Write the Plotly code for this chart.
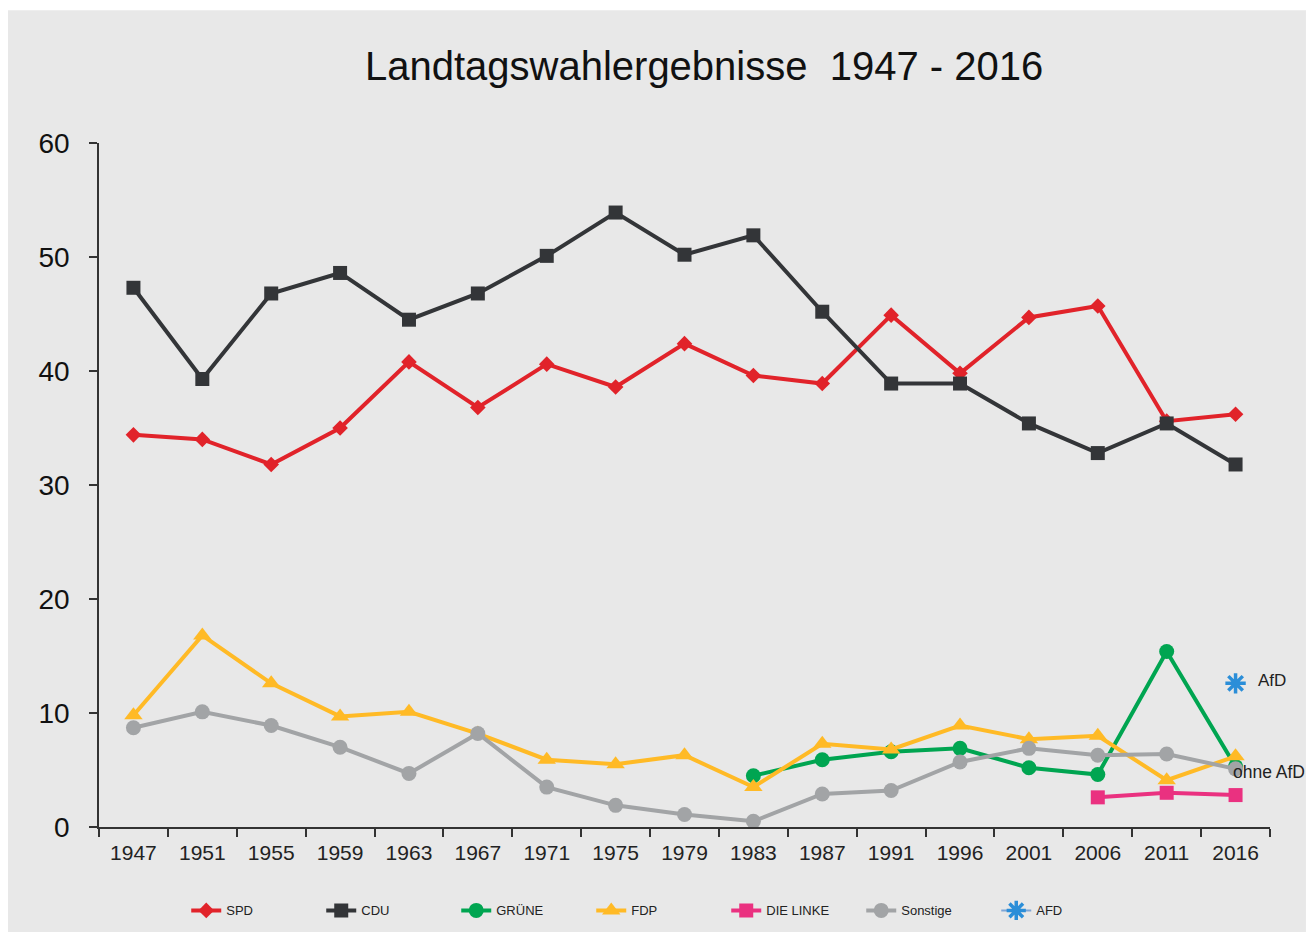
import plotly.graph_objects as go

years = ["1947", "1951", "1955", "1959", "1963", "1967", "1971", "1975", "1979",
         "1983", "1987", "1991", "1996", "2001", "2006", "2011", "2016"]

spd = [34.4, 34.0, 31.8, 35.0, 40.8, 36.8, 40.6, 38.6, 42.4, 39.6, 38.9, 44.9, 39.8, 44.7, 45.7, 35.6, 36.2]
cdu = [47.3, 39.3, 46.8, 48.6, 44.5, 46.8, 50.1, 53.9, 50.2, 51.9, 45.2, 38.9, 38.9, 35.4, 32.8, 35.4, 31.8]
gruene = [None] * 9 + [4.5, 5.9, 6.6, 6.9, 5.2, 4.6, 15.4, 5.3]
fdp = [9.8, 16.8, 12.6, 9.7, 10.1, 8.2, 5.9, 5.5, 6.3, 3.5, 7.3, 6.8, 8.9, 7.7, 8.0, 4.1, 6.2]
linke = [None] * 14 + [2.6, 3.0, 2.8]
sonstige = [8.7, 10.1, 8.9, 7.0, 4.7, 8.2, 3.5, 1.9, 1.1, 0.5, 2.9, 3.2, 5.7, 6.9, 6.3, 6.4, 5.1]
afd = [None] * 16 + [12.6]

fig = go.Figure()

def add_line(name, vals, color, symbol, size):
    fig.add_trace(go.Scatter(x=years, y=vals, name=name, mode="lines+markers",
                             line=dict(color=color, width=4),
                             marker=dict(symbol=symbol, size=size, color=color)))

add_line("SPD", spd, "#E1232A", "diamond", 12)
add_line("CDU", cdu, "#333538", "square", 14)
add_line("GRÜNE", gruene, "#00A551", "circle", 15)
add_line("FDP", fdp, "#FFBA26", "triangle-up", 16)
add_line("DIE LINKE", linke, "#EA3180", "square", 14)
add_line("Sonstige", sonstige, "#A2A4A6", "circle", 15)

# AfD: single point, asterisk marker
fig.add_trace(go.Scatter(x=years, y=afd, name="AFD", mode="lines+markers",
                         line=dict(color="#7FA6D6", width=2),
                         marker=dict(symbol="asterisk", size=17,
                                     line=dict(color="#2B8ED8", width=3.5))))

last = len(years) - 1
fig.add_annotation(x=last, y=afd[-1], text="AfD", showarrow=False,
                   xanchor="left", xshift=20, yshift=3, font=dict(size=17, color="#222"))
fig.add_annotation(x=last, y=sonstige[-1], text="ohne AfD", showarrow=False,
                   xanchor="left", xshift=-5, yshift=-3, font=dict(size=17.5, color="#222"))

# grey card behind everything
fig.add_shape(type="rect", xref="paper", yref="paper", x0=-0.0777, x1=1.0307,
              y0=-0.1535, y1=1.194, fillcolor="#E8E8E8", line_width=0, layer="below")

fig.update_layout(
    width=1306, height=925,
    margin=dict(l=91, r=44, t=135, b=106, autoexpand=False),
    paper_bgcolor="white",
    plot_bgcolor="rgba(0,0,0,0)",
    font=dict(family="Liberation Sans, Arial", color="#222"),
    title=dict(text="Landtagswahlergebnisse\u00a0\u00a01947 - 2016", x=0.533, xanchor="center",
               y=0.937, yanchor="middle", font=dict(size=40, color="#111")),
    showlegend=True,
    legend=dict(orientation="h", x=0.478, xanchor="center", y=-0.122, yanchor="middle",
                font=dict(size=13), entrywidth=90, bgcolor="rgba(0,0,0,0)"),
)

fig.update_xaxes(type="category", range=[-0.5, 16.5], tickson="boundaries",
                 showline=True, linecolor="#333", linewidth=1.5,
                 ticks="outside", ticklen=8, tickcolor="#333", tickwidth=1.5,
                 ticklabelstandoff=6,
                 showgrid=False, zeroline=False, tickfont=dict(size=21, color="#222"))
fig.update_yaxes(range=[0, 60], dtick=10, showline=True, linecolor="#333", linewidth=1.5,
                 ticks="outside", ticklen=8, tickcolor="#333", tickwidth=1.5,
                 ticklabelstandoff=14,
                 showgrid=False, zeroline=False, tickfont=dict(size=28, color="#111"))

fig.write_html("out.html")
